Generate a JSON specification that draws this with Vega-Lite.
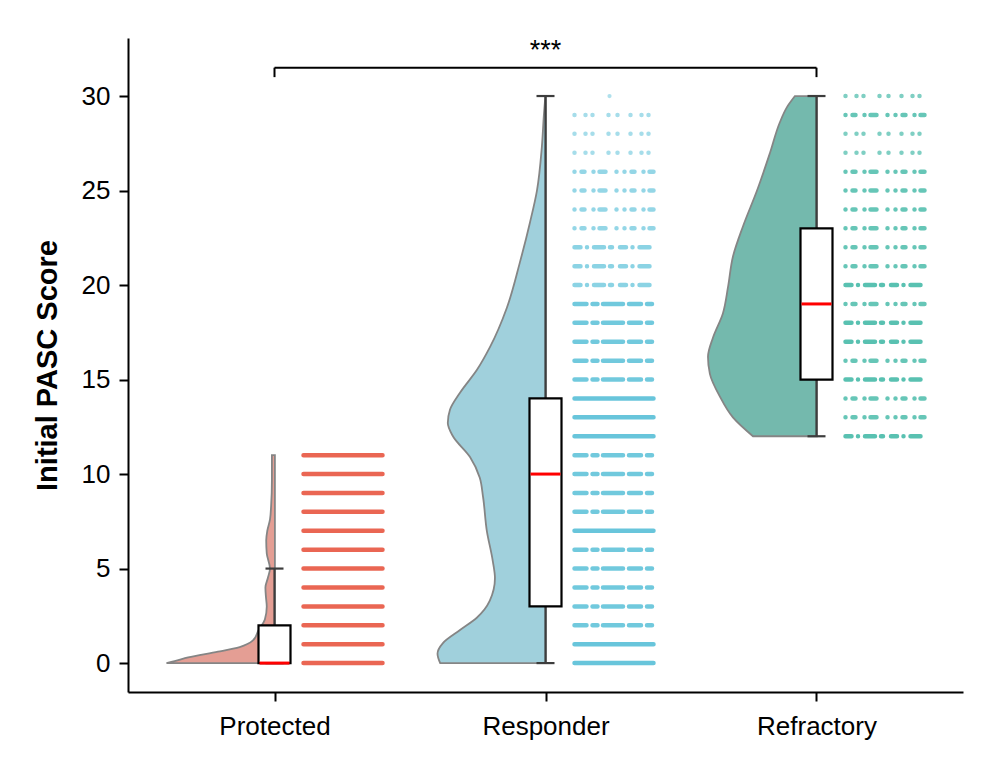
{
  "$schema": "https://vega.github.io/schema/vega-lite/v6.json",
  "width": 835,
  "height": 654,
  "autosize": "none",
  "padding": {"left": 128, "top": 38, "right": 33, "bottom": 83},
  "background": "white",
  "config": {
    "view": {"stroke": null},
    "font": "Liberation Sans",
    "axis": {
      "domainColor": "black", "domainWidth": 2, "tickColor": "black", "tickWidth": 2, "tickSize": 9,
      "labelColor": "black", "labelFont": "Liberation Sans", "labelFontSize": 26, "grid": false,
      "titleFont": "Liberation Sans", "titleColor": "black"
    }
  },
  "datasets": {
    "violin": [
      {"group": "Protected", "score": 0, "half_width": 0.40},
      {"group": "Protected", "score": 0.1, "half_width": 0.37},
      {"group": "Protected", "score": 0.3, "half_width": 0.32},
      {"group": "Protected", "score": 0.6, "half_width": 0.21},
      {"group": "Protected", "score": 0.85, "half_width": 0.13},
      {"group": "Protected", "score": 1.2, "half_width": 0.081},
      {"group": "Protected", "score": 1.75, "half_width": 0.06},
      {"group": "Protected", "score": 2.3, "half_width": 0.037},
      {"group": "Protected", "score": 3.0, "half_width": 0.03},
      {"group": "Protected", "score": 3.5, "half_width": 0.033},
      {"group": "Protected", "score": 4.0, "half_width": 0.035},
      {"group": "Protected", "score": 4.5, "half_width": 0.026},
      {"group": "Protected", "score": 5.0, "half_width": 0.018},
      {"group": "Protected", "score": 5.8, "half_width": 0.03},
      {"group": "Protected", "score": 6.5, "half_width": 0.032},
      {"group": "Protected", "score": 7.0, "half_width": 0.028},
      {"group": "Protected", "score": 7.6, "half_width": 0.018},
      {"group": "Protected", "score": 8.3, "half_width": 0.014},
      {"group": "Protected", "score": 9.7, "half_width": 0.011},
      {"group": "Protected", "score": 11, "half_width": 0.011},
      {"group": "Responder", "score": 0, "half_width": 0.39},
      {"group": "Responder", "score": 0.5, "half_width": 0.40},
      {"group": "Responder", "score": 1.06, "half_width": 0.38},
      {"group": "Responder", "score": 1.75, "half_width": 0.317},
      {"group": "Responder", "score": 2.4, "half_width": 0.255},
      {"group": "Responder", "score": 3.3, "half_width": 0.207},
      {"group": "Responder", "score": 4.5, "half_width": 0.188},
      {"group": "Responder", "score": 5.4, "half_width": 0.196},
      {"group": "Responder", "score": 7.0, "half_width": 0.218},
      {"group": "Responder", "score": 8.8, "half_width": 0.232},
      {"group": "Responder", "score": 9.8, "half_width": 0.244},
      {"group": "Responder", "score": 10.9, "half_width": 0.28},
      {"group": "Responder", "score": 12.0, "half_width": 0.343},
      {"group": "Responder", "score": 12.7, "half_width": 0.362},
      {"group": "Responder", "score": 13.4, "half_width": 0.354},
      {"group": "Responder", "score": 14.3, "half_width": 0.317},
      {"group": "Responder", "score": 15.5, "half_width": 0.255},
      {"group": "Responder", "score": 16.7, "half_width": 0.207},
      {"group": "Responder", "score": 18.8, "half_width": 0.144},
      {"group": "Responder", "score": 21.2, "half_width": 0.096},
      {"group": "Responder", "score": 23.3, "half_width": 0.059},
      {"group": "Responder", "score": 25.0, "half_width": 0.033},
      {"group": "Responder", "score": 27.3, "half_width": 0.015},
      {"group": "Responder", "score": 29.1, "half_width": 0.007},
      {"group": "Responder", "score": 30, "half_width": 0.002},
      {"group": "Refractory", "score": 12, "half_width": 0.236},
      {"group": "Refractory", "score": 13, "half_width": 0.31},
      {"group": "Refractory", "score": 14.1, "half_width": 0.358},
      {"group": "Refractory", "score": 15.3, "half_width": 0.395},
      {"group": "Refractory", "score": 16.2, "half_width": 0.402},
      {"group": "Refractory", "score": 17.2, "half_width": 0.384},
      {"group": "Refractory", "score": 18.5, "half_width": 0.347},
      {"group": "Refractory", "score": 19.9, "half_width": 0.328},
      {"group": "Refractory", "score": 21.5, "half_width": 0.31},
      {"group": "Refractory", "score": 23.1, "half_width": 0.273},
      {"group": "Refractory", "score": 25.0, "half_width": 0.221},
      {"group": "Refractory", "score": 27.0, "half_width": 0.173},
      {"group": "Refractory", "score": 28.6, "half_width": 0.137},
      {"group": "Refractory", "score": 29.4, "half_width": 0.111},
      {"group": "Refractory", "score": 30, "half_width": 0.081}
    ],
    "box": [
      {"group": "Protected", "low": 0, "q1": 0, "median": 0, "q3": 2, "high": 5},
      {"group": "Responder", "low": 0, "q1": 3, "median": 10, "q3": 14, "high": 30},
      {"group": "Refractory", "low": 12, "q1": 15, "median": 19, "q3": 23, "high": 30}
    ],
    "points": [
      {"group": "Protected", "score": 0, "density": "full"},
      {"group": "Protected", "score": 1, "density": "full"},
      {"group": "Protected", "score": 2, "density": "full"},
      {"group": "Protected", "score": 3, "density": "full"},
      {"group": "Protected", "score": 4, "density": "full"},
      {"group": "Protected", "score": 5, "density": "full"},
      {"group": "Protected", "score": 6, "density": "full"},
      {"group": "Protected", "score": 7, "density": "full"},
      {"group": "Protected", "score": 8, "density": "full"},
      {"group": "Protected", "score": 9, "density": "full"},
      {"group": "Protected", "score": 10, "density": "full"},
      {"group": "Protected", "score": 11, "density": "full"},
      {"group": "Responder", "score": 0, "density": "full"},
      {"group": "Responder", "score": 1, "density": "full"},
      {"group": "Responder", "score": 2, "density": "dense"},
      {"group": "Responder", "score": 3, "density": "dense"},
      {"group": "Responder", "score": 4, "density": "dense"},
      {"group": "Responder", "score": 5, "density": "dense"},
      {"group": "Responder", "score": 6, "density": "dense"},
      {"group": "Responder", "score": 7, "density": "full"},
      {"group": "Responder", "score": 8, "density": "dense"},
      {"group": "Responder", "score": 9, "density": "dense"},
      {"group": "Responder", "score": 10, "density": "dense"},
      {"group": "Responder", "score": 11, "density": "dense"},
      {"group": "Responder", "score": 12, "density": "full"},
      {"group": "Responder", "score": 13, "density": "full"},
      {"group": "Responder", "score": 14, "density": "full"},
      {"group": "Responder", "score": 15, "density": "dense"},
      {"group": "Responder", "score": 16, "density": "dense"},
      {"group": "Responder", "score": 17, "density": "dense"},
      {"group": "Responder", "score": 18, "density": "dense"},
      {"group": "Responder", "score": 19, "density": "dense"},
      {"group": "Responder", "score": 20, "density": "semi"},
      {"group": "Responder", "score": 21, "density": "semi"},
      {"group": "Responder", "score": 22, "density": "semi"},
      {"group": "Responder", "score": 23, "density": "medium"},
      {"group": "Responder", "score": 24, "density": "medium"},
      {"group": "Responder", "score": 25, "density": "medium"},
      {"group": "Responder", "score": 26, "density": "medium"},
      {"group": "Responder", "score": 27, "density": "sparse"},
      {"group": "Responder", "score": 28, "density": "sparse"},
      {"group": "Responder", "score": 29, "density": "sparse"},
      {"group": "Responder", "score": 30, "density": "single"},
      {"group": "Refractory", "score": 12, "density": "semi"},
      {"group": "Refractory", "score": 13, "density": "medium"},
      {"group": "Refractory", "score": 14, "density": "medium"},
      {"group": "Refractory", "score": 15, "density": "semi"},
      {"group": "Refractory", "score": 16, "density": "medium"},
      {"group": "Refractory", "score": 17, "density": "semi"},
      {"group": "Refractory", "score": 18, "density": "semi"},
      {"group": "Refractory", "score": 19, "density": "medium"},
      {"group": "Refractory", "score": 20, "density": "semi"},
      {"group": "Refractory", "score": 21, "density": "medium"},
      {"group": "Refractory", "score": 22, "density": "medium"},
      {"group": "Refractory", "score": 23, "density": "medium"},
      {"group": "Refractory", "score": 24, "density": "medium"},
      {"group": "Refractory", "score": 25, "density": "medium"},
      {"group": "Refractory", "score": 26, "density": "medium"},
      {"group": "Refractory", "score": 27, "density": "sparse"},
      {"group": "Refractory", "score": 28, "density": "sparse"},
      {"group": "Refractory", "score": 29, "density": "medium"},
      {"group": "Refractory", "score": 30, "density": "sparse"}
    ],
    "bracket": [
      {"from": "Protected", "to": "Refractory", "mid": "Responder", "level": 31.5, "tip": 31.0, "label": "***"}
    ]
  },
  "layer": [
    {
      "data": {"name": "violin"},
      "transform": [{"filter": "datum.group === 'Protected'"}],
      "mark": {"type": "area", "orient": "horizontal", "interpolate": "monotone", "fill": "#E49E94", "stroke": "#858585", "strokeWidth": 1.8, "opacity": 1},
      "encoding": {
        "y": {"field": "score", "type": "quantitative",
          "scale": {"domain": [-1.53, 33.07], "nice": false, "zero": false},
          "axis": {"title": "Initial PASC Score", "values": [0, 5, 10, 15, 20, 25, 30], "titleFontSize": 29, "titleFontWeight": "bold", "titlePadding": 19, "labelPadding": 9}},
        "x": {"field": "half_width", "type": "quantitative", "scale": {"domain": [-2.539, 0.542], "reverse": true, "nice": false, "zero": false}, "axis": null},
        "x2": {"datum": 0}
      }
    },
    {
      "data": {"name": "violin"},
      "transform": [{"filter": "datum.group === 'Responder'"}],
      "mark": {"type": "area", "orient": "horizontal", "interpolate": "monotone", "fill": "#A0D0DC", "stroke": "#858585", "strokeWidth": 1.8, "opacity": 1},
      "encoding": {
        "y": {"field": "score", "type": "quantitative",
          "axis": {"title": "Initial PASC Score", "values": [0, 5, 10, 15, 20, 25, 30], "titleFontSize": 29, "titleFontWeight": "bold", "titlePadding": 19, "labelPadding": 9}},
        "x": {"field": "half_width", "type": "quantitative", "scale": {"domain": [-1.539, 1.542], "reverse": true, "nice": false, "zero": false}, "axis": null},
        "x2": {"datum": 0}
      }
    },
    {
      "data": {"name": "violin"},
      "transform": [{"filter": "datum.group === 'Refractory'"}],
      "mark": {"type": "area", "orient": "horizontal", "interpolate": "monotone", "fill": "#74B9AD", "stroke": "#858585", "strokeWidth": 1.8, "opacity": 1},
      "encoding": {
        "y": {"field": "score", "type": "quantitative",
          "axis": {"title": "Initial PASC Score", "values": [0, 5, 10, 15, 20, 25, 30], "titleFontSize": 29, "titleFontWeight": "bold", "titlePadding": 19, "labelPadding": 9}},
        "x": {"field": "half_width", "type": "quantitative", "scale": {"domain": [-0.539, 2.542], "reverse": true, "nice": false, "zero": false}, "axis": null},
        "x2": {"datum": 0}
      }
    },
    {
      "layer": [
        {
          "data": {"name": "box"},
          "mark": {"type": "rule", "color": "#3d3d3d", "strokeWidth": 2.2},
          "encoding": {
            "x": {"field": "group", "type": "nominal",
              "scale": {"type": "point", "domain": ["Protected", "Responder", "Refractory"], "padding": 0.5406},
              "axis": {"title": null, "labelAngle": 0, "labelPadding": 12}},
            "y": {"field": "low", "type": "quantitative",
              "axis": {"title": "Initial PASC Score", "values": [0, 5, 10, 15, 20, 25, 30], "titleFontSize": 29, "titleFontWeight": "bold", "titlePadding": 19, "labelPadding": 9}},
            "y2": {"field": "high"}
          }
        },
        {
          "data": {"name": "box"},
          "mark": {"type": "rule", "color": "#3d3d3d", "strokeWidth": 2.2, "xOffset": -9, "x2Offset": 9},
          "encoding": {
            "x": {"field": "group", "type": "nominal", "axis": {"title": null, "labelAngle": 0, "labelPadding": 12}},
            "x2": {"field": "group"},
            "y": {"field": "high", "type": "quantitative",
              "axis": {"title": "Initial PASC Score", "values": [0, 5, 10, 15, 20, 25, 30], "titleFontSize": 29, "titleFontWeight": "bold", "titlePadding": 19, "labelPadding": 9}}
          }
        },
        {
          "data": {"name": "box"},
          "mark": {"type": "rule", "color": "#3d3d3d", "strokeWidth": 2.2, "xOffset": -9, "x2Offset": 9},
          "encoding": {
            "x": {"field": "group", "type": "nominal", "axis": {"title": null, "labelAngle": 0, "labelPadding": 12}},
            "x2": {"field": "group"},
            "y": {"field": "low", "type": "quantitative",
              "axis": {"title": "Initial PASC Score", "values": [0, 5, 10, 15, 20, 25, 30], "titleFontSize": 29, "titleFontWeight": "bold", "titlePadding": 19, "labelPadding": 9}}
          }
        },
        {
          "data": {"name": "box"},
          "mark": {"type": "rect", "fill": "white", "stroke": "black", "strokeWidth": 2.2, "xOffset": -16, "x2Offset": 16},
          "encoding": {
            "x": {"field": "group", "type": "nominal", "axis": {"title": null, "labelAngle": 0, "labelPadding": 12}},
            "x2": {"field": "group"},
            "y": {"field": "q1", "type": "quantitative",
              "axis": {"title": "Initial PASC Score", "values": [0, 5, 10, 15, 20, 25, 30], "titleFontSize": 29, "titleFontWeight": "bold", "titlePadding": 19, "labelPadding": 9}},
            "y2": {"field": "q3"}
          }
        },
        {
          "data": {"name": "box"},
          "mark": {"type": "rule", "color": "#FF0000", "strokeWidth": 3, "xOffset": -15, "x2Offset": 15},
          "encoding": {
            "x": {"field": "group", "type": "nominal", "axis": {"title": null, "labelAngle": 0, "labelPadding": 12}},
            "x2": {"field": "group"},
            "y": {"field": "median", "type": "quantitative",
              "axis": {"title": "Initial PASC Score", "values": [0, 5, 10, 15, 20, 25, 30], "titleFontSize": 29, "titleFontWeight": "bold", "titlePadding": 19, "labelPadding": 9}}
          }
        },
        {
          "data": {"name": "points"},
          "transform": [{"filter": "datum.density !== 'single'"}],
          "mark": {"type": "rule", "strokeWidth": 4.5, "strokeCap": "round", "xOffset": 29, "x2Offset": 108},
          "encoding": {
            "x": {"field": "group", "type": "nominal", "axis": {"title": null, "labelAngle": 0, "labelPadding": 12}},
            "x2": {"field": "group"},
            "y": {"field": "score", "type": "quantitative",
              "axis": {"title": "Initial PASC Score", "values": [0, 5, 10, 15, 20, 25, 30], "titleFontSize": 29, "titleFontWeight": "bold", "titlePadding": 19, "labelPadding": 9}},
            "color": {"field": "group", "type": "nominal", "legend": null,
              "scale": {"domain": ["Protected", "Responder", "Refractory"], "range": ["#E64B35", "#4DBBD5", "#00A087"]}},
            "strokeDash": {"field": "density", "type": "ordinal", "legend": null,
              "scale": {"type": "ordinal", "domain": ["full", "dense", "semi", "medium", "sparse"],
                "range": [[1, 0], [12, 6, 5, 5.5, 20, 6], [6, 6.5, 0, 7, 10, 6, 2, 8], [0, 7, 3, 9, 0, 6, 6, 11, 0, 8], [0, 11, 0, 7, 0, 16, 0, 9, 0, 13]]}},
            "opacity": {"field": "density", "type": "ordinal", "legend": null,
              "scale": {"type": "ordinal", "domain": ["full", "dense", "semi", "medium", "sparse"],
                "range": [0.85, 0.8, 0.65, 0.6, 0.5]}}
          }
        },
        {
          "data": {"name": "points"},
          "transform": [{"filter": "datum.density === 'single'"}],
          "mark": {"type": "circle", "size": 18, "opacity": 0.45, "xOffset": 64},
          "encoding": {
            "x": {"field": "group", "type": "nominal", "axis": {"title": null, "labelAngle": 0, "labelPadding": 12}},
            "y": {"field": "score", "type": "quantitative",
              "axis": {"title": "Initial PASC Score", "values": [0, 5, 10, 15, 20, 25, 30], "titleFontSize": 29, "titleFontWeight": "bold", "titlePadding": 19, "labelPadding": 9}},
            "color": {"field": "group", "type": "nominal", "legend": null,
              "scale": {"domain": ["Protected", "Responder", "Refractory"], "range": ["#E64B35", "#4DBBD5", "#00A087"]}}
          }
        },
        {
          "data": {"name": "bracket"},
          "mark": {"type": "rule", "color": "black", "strokeWidth": 2},
          "encoding": {
            "x": {"field": "from", "type": "nominal", "axis": {"title": null, "labelAngle": 0, "labelPadding": 12}},
            "x2": {"field": "to"},
            "y": {"field": "level", "type": "quantitative",
              "axis": {"title": "Initial PASC Score", "values": [0, 5, 10, 15, 20, 25, 30], "titleFontSize": 29, "titleFontWeight": "bold", "titlePadding": 19, "labelPadding": 9}}
          }
        },
        {
          "data": {"name": "bracket"},
          "mark": {"type": "rule", "color": "black", "strokeWidth": 2},
          "encoding": {
            "x": {"field": "from", "type": "nominal", "axis": {"title": null, "labelAngle": 0, "labelPadding": 12}},
            "y": {"field": "level", "type": "quantitative",
              "axis": {"title": "Initial PASC Score", "values": [0, 5, 10, 15, 20, 25, 30], "titleFontSize": 29, "titleFontWeight": "bold", "titlePadding": 19, "labelPadding": 9}},
            "y2": {"field": "tip"}
          }
        },
        {
          "data": {"name": "bracket"},
          "mark": {"type": "rule", "color": "black", "strokeWidth": 2},
          "encoding": {
            "x": {"field": "to", "type": "nominal", "axis": {"title": null, "labelAngle": 0, "labelPadding": 12}},
            "y": {"field": "level", "type": "quantitative",
              "axis": {"title": "Initial PASC Score", "values": [0, 5, 10, 15, 20, 25, 30], "titleFontSize": 29, "titleFontWeight": "bold", "titlePadding": 19, "labelPadding": 9}},
            "y2": {"field": "tip"}
          }
        },
        {
          "data": {"name": "bracket"},
          "mark": {"type": "text", "color": "black", "fontSize": 27, "font": "Liberation Sans", "baseline": "alphabetic", "align": "center", "dy": -9},
          "encoding": {
            "x": {"field": "mid", "type": "nominal", "axis": {"title": null, "labelAngle": 0, "labelPadding": 12}},
            "y": {"field": "level", "type": "quantitative",
              "axis": {"title": "Initial PASC Score", "values": [0, 5, 10, 15, 20, 25, 30], "titleFontSize": 29, "titleFontWeight": "bold", "titlePadding": 19, "labelPadding": 9}},
            "text": {"field": "label"}
          }
        }
      ]
    }
  ],
  "resolve": {"scale": {"x": "independent"}, "axis": {"x": "independent"}}
}
